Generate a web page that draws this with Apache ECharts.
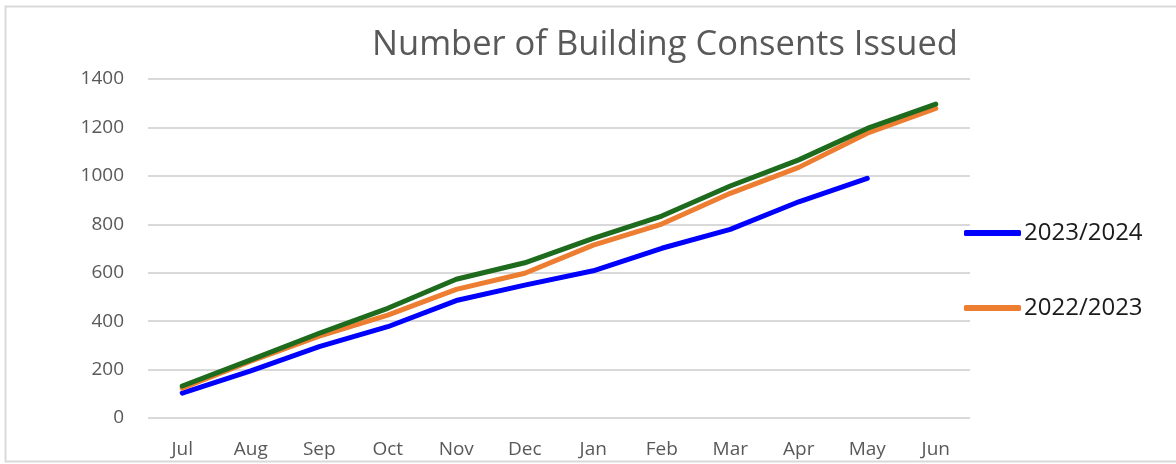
<!DOCTYPE html>
<html>
<head>
<meta charset="utf-8">
<script src="https://cdn.jsdelivr.net/npm/echarts@6/dist/echarts.min.js"></script>
<style>
  html, body { margin: 0; padding: 0; background: #fff; }
  #chart { width: 1176px; height: 464px; }
</style>
</head>
<body>
<div id="chart"></div>
<script>
// 数据
const months = ['Jul', 'Aug', 'Sep', 'Oct', 'Nov', 'Dec', 'Jan', 'Feb', 'Mar', 'Apr', 'May', 'Jun'];
const yTicks = [0, 200, 400, 600, 800, 1000, 1200, 1400];
const fy2024 = [103, 195, 295, 377, 485, 549, 608, 701, 779, 893, 990, null];
const fy2023 = [123, 235, 338, 425, 531, 598, 714, 801, 928, 1035, 1176, 1279];
const fy2022 = [132, 240, 350, 453, 573, 641, 742, 834, 958, 1066, 1196, 1296];

let chart = echarts.init(document.getElementById('chart'));

let lineSeries = (name, data, color) => ({
  name: name,
  type: 'line',
  data: data,
  symbol: 'none',
  smooth: false,
  lineStyle: { color: color, width: 5, cap: 'round', join: 'round' },
  itemStyle: { color: color }
});

// 右侧图例，每项单独定位
let legendItem = (name, top) => ({
  data: [name],
  orient: 'vertical',
  left: 964,
  top: top,
  padding: 0,
  itemWidth: 57,
  itemHeight: 6,
  itemGap: 0,
  icon: 'roundRect',
  textStyle: { fontFamily: 'Open Sans', fontSize: 24, lineHeight: 24, color: '#1a1a1a', padding: [0, 0, 0, -2] }
});

let options = {
  animation: false,
  title: {
    text: 'Number of Building Consents Issued',
    left: 372,
    top: 28,
    padding: 0,
    textStyle: { fontFamily: 'Open Sans', fontSize: 34.5, fontWeight: 'normal', color: '#595959' }
  },
  legend: [legendItem('2023/2024', 221), legendItem('2022/2023', 296)],
  grid: { left: 148, right: 206, top: 79, bottom: 46 },
  xAxis: {
    type: 'category',
    data: months,
    boundaryGap: true,
    axisLine: { show: false },
    axisTick: { show: false },
    axisLabel: { fontFamily: 'Open Sans', fontSize: 19, color: '#595959', margin: 22 }
  },
  yAxis: {
    type: 'value',
    min: yTicks[0],
    max: yTicks[yTicks.length - 1],
    interval: 200,
    axisLine: { show: false },
    axisTick: { show: false },
    axisLabel: { fontFamily: 'Open Sans', fontSize: 19, color: '#595959', margin: 24, formatter: v => String(v) },
    splitLine: { lineStyle: { color: '#d9d9d9', width: 2 } }
  },
  series: [
    lineSeries('2023/2024', fy2024, '#0000ff'),
    lineSeries('2022/2023', fy2023, '#ed7d31'),
    lineSeries('2021/2022', fy2022, '#1e6b1e')
  ],
  graphic: [{
    type: 'rect',
    shape: { x: 5.5, y: 6.5, width: 1180, height: 455 },
    style: { fill: 'none', stroke: '#d9d9d9', lineWidth: 2 },
    silent: true
  }]
};

chart.setOption(options);
</script>
</body>
</html>
